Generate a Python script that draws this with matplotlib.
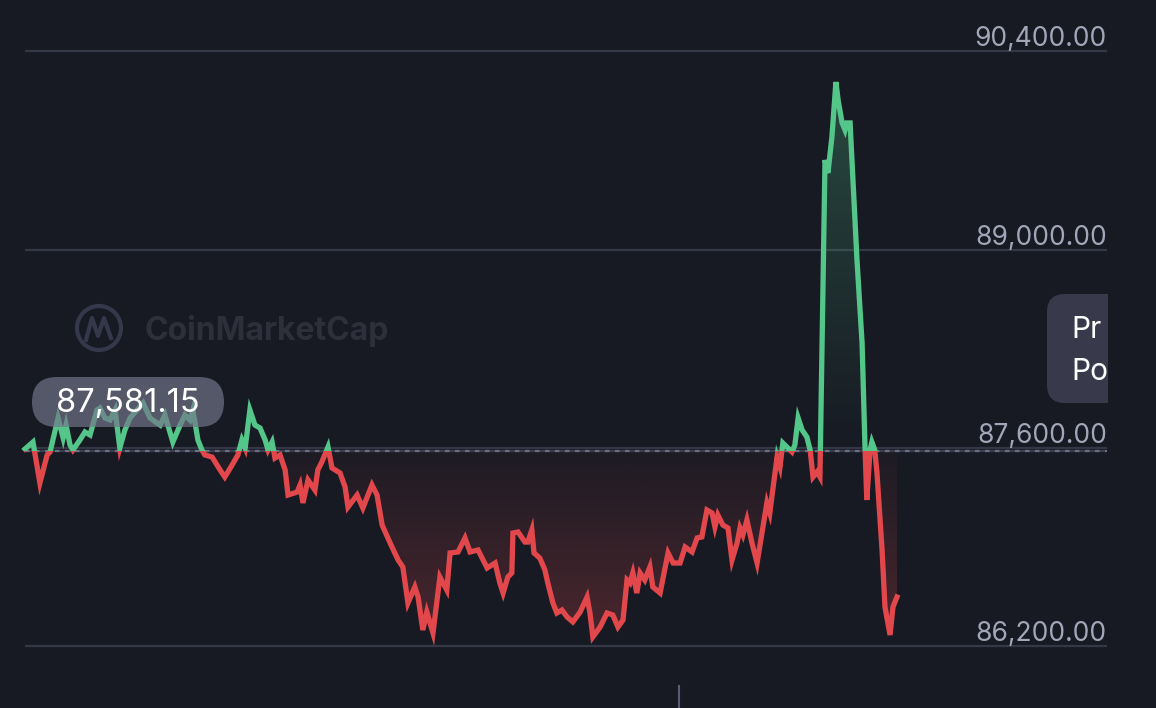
import numpy as np
import matplotlib
matplotlib.use("Agg")
import matplotlib.pyplot as plt
from matplotlib.patches import FancyBboxPatch, Rectangle, Circle, PathPatch
from matplotlib.path import Path
import matplotlib.transforms as mtransforms

# ---------------- data ----------------
hours = [0.00, 0.22, 0.41, 0.61, 0.69, 0.91, 1.05, 1.13, 1.24, 1.32,
         1.51, 1.65, 1.79, 1.98, 2.06, 2.20, 2.34, 2.48, 2.61, 2.75,
         2.89, 3.25, 3.44, 3.72, 3.85, 4.07, 4.27, 4.40, 4.54, 4.62,
         4.76, 4.87, 4.95, 5.15, 5.37, 5.50, 5.70, 5.86, 5.97, 6.06,
         6.19, 6.33, 6.47, 6.61, 6.69, 6.80, 6.88, 7.02, 7.16, 7.24,
         7.49, 7.57, 7.65, 7.79, 7.98, 8.06, 8.17, 8.34, 8.45, 8.67,
         8.81, 8.89, 9.14, 9.30, 9.55, 9.69, 9.83, 10.05, 10.27, 10.40,
         10.54, 10.73, 10.82, 10.95, 11.06, 11.23, 11.42, 11.61, 11.70, 11.92,
         12.11, 12.25, 12.47, 12.72, 12.94, 13.07, 13.16, 13.29, 13.40, 13.43,
         13.57, 13.76, 13.84, 13.95, 14.01, 14.17, 14.31, 14.39, 14.53, 14.64,
         14.78, 14.92, 15.08, 15.28, 15.47, 15.55, 15.63, 15.83, 16.02, 16.18,
         16.32, 16.46, 16.57, 16.65, 16.73, 16.84, 16.93, 17.06, 17.20, 17.28,
         17.48, 17.70, 17.84, 18.03, 18.17, 18.36, 18.50, 18.63, 18.77, 18.91,
         18.99, 19.07, 19.21, 19.35, 19.46, 19.60, 19.68, 19.76, 19.87, 20.01,
         20.15, 20.42, 20.50, 20.70, 20.78, 20.86, 21.11, 21.19, 21.28, 21.39,
         21.52, 21.61, 21.69, 21.80, 21.88, 22.02, 22.10, 22.21, 22.32, 22.38,
         22.49, 22.57, 22.62, 22.71, 22.90, 23.04, 23.12, 23.17, 23.26, 23.31,
         23.39, 23.45, 23.59, 23.67, 23.81, 23.89, 24.00]

prices = [87593, 87642, 87353, 87551, 87572, 87812, 87671, 87762, 87621, 87586,
          87656, 87713, 87692, 87868, 87882, 87812, 87798, 87868, 87600, 87727,
          87812, 87918, 87812, 87762, 87833, 87642, 87762, 87833, 87798, 87868,
          87656, 87586, 87551, 87536, 87445, 87395, 87480, 87551, 87656, 87600,
          87868, 87762, 87741, 87656, 87586, 87642, 87529, 87551, 87445, 87268,
          87289, 87339, 87212, 87374, 87303, 87445, 87501, 87607, 87459, 87424,
          87325, 87183, 87268, 87176, 87339, 87268, 87056, 86929, 86809, 86760,
          86506, 86619, 86548, 86315, 86442, 86294, 86689, 86597, 86859, 86866,
          86965, 86866, 86880, 86753, 86788, 86647, 86576, 86689, 86718, 87000,
          87007, 86936, 86936, 87021, 86859, 86823, 86739, 86647, 86506, 86435,
          86456, 86407, 86372, 86442, 86548, 86435, 86266, 86336, 86435, 86421,
          86336, 86386, 86668, 86647, 86718, 86576, 86718, 86668, 86760, 86619,
          86576, 86859, 86788, 86788, 86901, 86866, 86965, 86972, 87162, 87141,
          87042, 87127, 87056, 87035, 86809, 86929, 87035, 86986, 87092, 86929,
          86788, 87212, 87141, 87536, 87466, 87635, 87572, 87621, 87812, 87727,
          87678, 87586, 87395, 87431, 87395, 89633, 89542, 89796, 90184, 90057,
          89895, 89845, 89895, 89895, 88927, 88341, 87610, 87233, 87586, 87642,
          87586, 87424, 86880, 86477, 86280, 86477, 86548]

reference_price = 87581.15
reference_label = "87,581.15"
y_ticks = [86200, 87600, 89000, 90400]
y_tick_labels = ["86,200.00", "87,600.00", "89,000.00", "90,400.00"]
time_ticks = [18]
side_label_lines = ["Pr", "Po"]
watermark_text = "CoinMarketCap"

# ---------------- style ----------------
BG = "#171a23"
GRID = "#343746"
GREEN = "#55c68a"
RED = "#e2484b"
LABEL = "#a3a6b8"
FONT = ["Inter", "DejaVu Sans"]

W, H = 1156, 708
fig = plt.figure(figsize=(W / 100, H / 100), dpi=100)
fig.patch.set_facecolor(BG)
ax = fig.add_axes([0, 0, 1, 1])
ax.set_facecolor(BG)
ax.axis("off")

# pixel transform (top-left origin) for decorations
pix = mtransforms.Affine2D().scale(0.01, -0.01).translate(0, H / 100) + fig.dpi_scale_trans

t = np.array(hours)
p = np.array(prices)
t0, t1 = t[0], t[-1]
grid_right = 29.78

# gridlines
ax.hlines(y_ticks, t0, grid_right, colors=GRID, lw=1.6, zorder=1)
for val, lab in zip(y_ticks, y_tick_labels):
    tr = ax.transData + mtransforms.ScaledTranslation(0, 0.05, fig.dpi_scale_trans)
    ax.text(grid_right, val, lab, ha="right", va="baseline", fontsize=19,
            color=LABEL, family=FONT, transform=tr, zorder=6)

# gradient fills between line and reference
verts = list(zip(t, p)) + [(t1, reference_price), (t0, reference_price), (t0, p[0])]
codes = [Path.MOVETO] + [Path.LINETO] * (len(verts) - 2) + [Path.CLOSEPOLY]
clip_poly = PathPatch(Path(verts, codes), transform=ax.transData, facecolor="none", edgecolor="none")

n = 256
g = np.zeros((n, 1, 4))
g[..., :3] = matplotlib.colors.to_rgb(GREEN)
g[:, 0, 3] = np.linspace(0.0, 0.30, n)
im_g = ax.imshow(g, origin="lower", extent=(t0, t1, reference_price, 90400), aspect="auto",
                 interpolation="bilinear", zorder=2)
im_g.set_clip_path(clip_poly)

r = np.zeros((n, 1, 4))
r[..., :3] = matplotlib.colors.to_rgb(RED)
r[:, 0, 3] = np.linspace(0.27, 0.03, n)
im_r = ax.imshow(r, origin="lower", extent=(t0, t1, 86200, reference_price), aspect="auto",
                 interpolation="bilinear", zorder=2)
im_r.set_clip_path(clip_poly)

# reference dotted line
ax.hlines(reference_price, t0, grid_right, colors="#3b3e4f", lw=1.6, zorder=3)
ax.hlines(reference_price, t0, grid_right, colors="#6d7083", lw=1.6,
          linestyles=(0, (2, 2.5)), zorder=3)

# price line coloured above / below reference
above = Rectangle((-5, reference_price), 50, 10000, transform=ax.transData)
below = Rectangle((-5, reference_price - 10000), 50, 10000, transform=ax.transData)
lg, = ax.plot(t, p, color=GREEN, lw=3.8, solid_joinstyle="miter", zorder=4)
lg.set_clip_path(above)
lr, = ax.plot(t, p, color=RED, lw=3.8, solid_joinstyle="miter", zorder=4)
lr.set_clip_path(below)

ax.set_xlim(-0.688, 31.13)
ax.set_ylim(85764.4, 90762.9)

# bottom time tick
btr = mtransforms.blended_transform_factory(ax.transData, ax.transAxes)
for tt in time_ticks:
    ax.plot([tt, tt], [0, 22 / H], color="#5a5d6f", lw=1.5, transform=btr, zorder=3)

# watermark
ax.add_patch(Circle((99, 328), 22, transform=pix, fill=False, ec="#35374a", lw=3, zorder=1.5))
ax.plot([86, 92, 98, 104, 111], [340, 318, 336, 318, 338], color="#35374a", lw=3,
        transform=pix, zorder=1.5)
ax.text(144, 331, watermark_text, transform=pix, ha="left", va="center", fontsize=23,
        fontweight="bold", color="#2d2f3b", family=FONT, zorder=1.5)

# reference price pill
pill = FancyBboxPatch((32, 377), 192, 50, boxstyle="round,pad=0,rounding_size=25",
                      transform=pix, fc="#74768a", ec="none", alpha=0.68, zorder=5)
ax.add_patch(pill)
ax.text(128, 404, reference_label, transform=pix, ha="center", va="center", fontsize=23.5,
        color="white", family=FONT, zorder=6)

# right side box (cut at the right edge of the chart area)
box = FancyBboxPatch((1047, 294), 61, 109, boxstyle="round,pad=0,rounding_size=18",
                     transform=pix, fc="#383a4b", ec="none", zorder=5)
ax.add_patch(box)
ax.add_patch(Rectangle((1080, 294), 28, 109, transform=pix, fc="#383a4b", ec="none", zorder=5))
for i, line in enumerate(side_label_lines):
    ax.text(1071, 338 + i * 42, line, transform=pix, ha="left", va="baseline",
            fontsize=21.5, color="white", family=FONT, zorder=6)

fig.savefig("out.png", dpi=100, facecolor=BG)
